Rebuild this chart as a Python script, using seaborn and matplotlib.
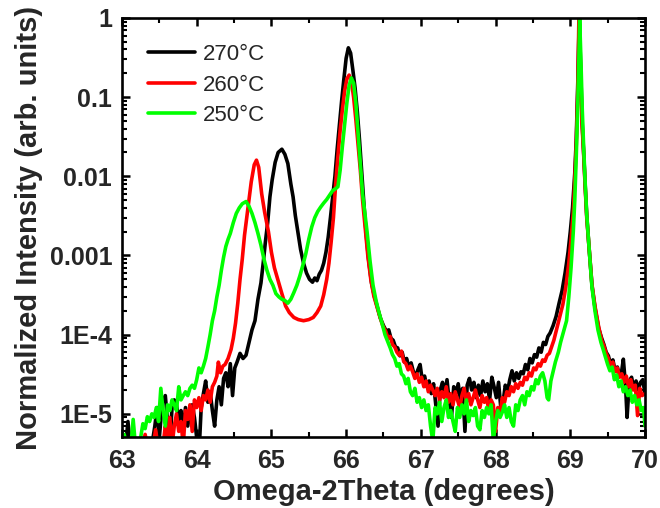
import numpy as np
import pandas as pd
import matplotlib
matplotlib.use("Agg")
import matplotlib.pyplot as plt
import seaborn as sns
from matplotlib.ticker import MultipleLocator, FixedLocator, FixedFormatter, LogLocator, NullFormatter

# ---------------- data ----------------
series_labels = ["270°C", "260°C", "250°C"]
series_colors = ["#000000", "#ff0000", "#00ff00"]

x_270 = [63.00, 63.05, 63.08, 63.11, 63.40, 63.44, 63.47, 63.50, 63.54, 63.58, 63.61, 63.64, 63.67, 63.70,
         63.73, 63.76, 63.79, 63.82, 63.85, 63.88, 63.91, 63.94, 63.97, 64.00, 64.03, 64.06, 64.09, 64.12,
         64.15, 64.18, 64.21, 64.24, 64.27, 64.30, 64.33, 64.36, 64.39, 64.42, 64.45, 64.48, 64.51, 64.54,
         64.58, 64.62, 64.66, 64.70, 64.74, 64.78, 64.82, 64.86, 64.89, 64.92, 64.95, 64.98, 65.01, 65.05,
         65.09, 65.14, 65.18, 65.22, 65.26, 65.29, 65.32, 65.35, 65.39, 65.43, 65.47, 65.51, 65.55, 65.58,
         65.61, 65.64, 65.67, 65.70, 65.73, 65.76, 65.79, 65.82, 65.85, 65.88, 65.91, 65.94, 65.97, 66.00,
         66.03, 66.06, 66.09, 66.12, 66.15, 66.18, 66.21, 66.24, 66.27, 66.30, 66.34, 66.38, 66.42, 66.46,
         66.50, 66.54, 66.57, 66.60, 66.63, 66.66, 66.69, 66.72, 66.75, 66.78, 66.81, 66.84, 66.87, 66.90,
         66.93, 66.96, 66.99, 67.02, 67.05, 67.08, 67.11, 67.14, 67.17, 67.20, 67.23, 67.26, 67.29, 67.32,
         67.35, 67.38, 67.41, 67.44, 67.47, 67.50, 67.53, 67.56, 67.59, 67.62, 67.65, 67.68, 67.71, 67.74,
         67.77, 67.80, 67.83, 67.86, 67.89, 67.92, 67.95, 67.98, 68.01, 68.04, 68.07, 68.10, 68.13, 68.16,
         68.19, 68.22, 68.25, 68.28, 68.31, 68.34, 68.37, 68.40, 68.43, 68.46, 68.49, 68.52, 68.55, 68.58,
         68.61, 68.64, 68.67, 68.70, 68.73, 68.77, 68.81, 68.85, 68.89, 68.93, 68.97, 69.00, 69.03, 69.06,
         69.08, 69.10, 69.12, 69.14, 69.16, 69.18, 69.20, 69.22, 69.25, 69.29, 69.33, 69.38, 69.42, 69.45,
         69.48, 69.51, 69.54, 69.57, 69.60, 69.63, 69.66, 69.69, 69.71, 69.74, 69.76, 69.79, 69.82, 69.85,
         69.88, 69.91, 69.94, 69.97, 70.00]
y_270 = [3e-6, 4e-6, 8e-6, 4e-6, 4e-6, 7e-6, 1.2e-5, 5e-6, 1.4e-5, 1.7e-5, 8e-6, 4e-6, 1.2e-5, 1.5e-5,
         1.3e-5, 8e-6, 1.1e-5, 6e-6, 1.2e-5, 7e-6, 1.1e-5, 1.3e-5, 9e-6, 5e-6, 3e-6, 1.2e-5, 1.8e-5, 2.6e-5,
         1.4e-5, 1.9e-5, 1.1e-5, 7e-6, 1.5e-5, 2.2e-5, 1.3e-5, 2.8e-5, 3.3e-5, 2.2e-5, 4.3e-5, 1.7e-5, 3.8e-5, 4.5e-5,
         5.8e-5, 5.0e-5, 5.5e-5, 8.0e-5, 1.15e-4, 1.5e-4, 2.8e-4, 4.5e-4, 8.0e-4, 1.5e-3, 2.6e-3, 5.5e-3, 9.0e-3, 1.5e-2,
         2.0e-2, 2.2e-2, 1.9e-2, 1.45e-2, 8.0e-3, 5.5e-3, 3.2e-3, 2.1e-3, 1.2e-3, 8.0e-4, 6.0e-4, 5.0e-4, 4.6e-4, 5.2e-4,
         4.8e-4, 5.8e-4, 6.5e-4, 8.0e-4, 1.1e-3, 1.7e-3, 3.0e-3, 5.5e-3, 1.0e-2, 2.2e-2, 4.5e-2, 9.0e-2, 0.17, 0.31,
         0.42, 0.36, 0.22, 0.13, 0.065, 0.028, 0.011, 4.2e-3, 1.8e-3, 9.0e-4, 4.5e-4, 3.0e-4, 2.2e-4, 1.6e-4,
         1.3e-4, 1.1e-4, 1.15e-4, 9.0e-5, 8.5e-5, 7.0e-5, 6.8e-5, 5.4e-5, 6.0e-5, 4.5e-5, 5.0e-5, 3.8e-5, 4.4e-5, 3.4e-5,
         3.0e-5, 3.6e-5, 4.2e-5, 2.6e-5, 3.0e-5, 2.2e-5, 2.6e-5, 1.8e-5, 2.4e-5, 1.3e-5, 7e-6, 2.0e-5, 2.5e-5, 1.7e-5,
         2.7e-5, 1.4e-5, 9e-6, 2.2e-5, 1.8e-5, 2.4e-5, 1.5e-5, 2.1e-5, 6e-6, 2.3e-5, 2.8e-5, 2.0e-5, 2.5e-5, 1.6e-5,
         2.3e-5, 1.7e-5, 2.6e-5, 1.9e-5, 2.4e-5, 1.5e-5, 2.9e-5, 2.2e-5, 1.6e-5, 2.5e-5, 1.2e-5, 1.4e-5, 2.3e-5, 1.9e-5,
         2.7e-5, 3.5e-5, 2.6e-5, 3.3e-5, 2.8e-5, 3.4e-5, 3.2e-5, 4.2e-5, 3.6e-5, 5.0e-5, 4.4e-5, 5.6e-5, 5.2e-5, 6.8e-5,
         6.0e-5, 8.0e-5, 7.5e-5, 9.5e-5, 1.05e-4, 1.3e-4, 1.7e-4, 2.5e-4, 3.6e-4, 6.0e-4, 1.1e-3, 2.0e-3, 4.0e-3, 1.1e-2,
         3.0e-2, 0.15, 1.0, 0.2, 0.045, 0.019, 7.5e-3, 3.2e-3, 1.3e-3, 4.2e-4, 2.2e-4, 1.2e-4, 9.0e-5, 7.5e-5,
         6.0e-5, 5.4e-5, 4.2e-5, 4.8e-5, 3.5e-5, 3.9e-5, 3.0e-5, 3.6e-5, 4.9e-5, 2.2e-5, 9e-6, 2.6e-5, 2.9e-5, 2.1e-5,
         2.6e-5, 2.0e-5, 2.5e-5, 2.7e-5, 1.8e-5]

x_260 = [63.00, 63.03, 63.28, 63.31, 63.34, 63.42, 63.45, 63.48, 63.55, 63.58, 63.61, 63.64, 63.67, 63.70,
         63.73, 63.76, 63.79, 63.82, 63.85, 63.88, 63.91, 63.94, 63.97, 64.00, 64.03, 64.06, 64.09, 64.12,
         64.15, 64.18, 64.21, 64.24, 64.27, 64.29, 64.32, 64.35, 64.38, 64.42, 64.46, 64.49, 64.52, 64.55,
         64.58, 64.61, 64.64, 64.67, 64.70, 64.73, 64.77, 64.80, 64.83, 64.87, 64.91, 64.96, 65.00, 65.04,
         65.09, 65.14, 65.19, 65.24, 65.30, 65.36, 65.43, 65.50, 65.56, 65.61, 65.66, 65.70, 65.74, 65.77,
         65.80, 65.83, 65.86, 65.89, 65.92, 65.95, 65.98, 66.01, 66.04, 66.07, 66.10, 66.13, 66.16, 66.19,
         66.22, 66.25, 66.29, 66.33, 66.37, 66.41, 66.45, 66.49, 66.53, 66.56, 66.59, 66.62, 66.65, 66.68,
         66.71, 66.74, 66.77, 66.80, 66.83, 66.86, 66.89, 66.92, 66.95, 66.98, 67.01, 67.04, 67.07, 67.10,
         67.13, 67.16, 67.19, 67.22, 67.25, 67.28, 67.31, 67.34, 67.37, 67.40, 67.43, 67.46, 67.49, 67.52,
         67.55, 67.58, 67.61, 67.64, 67.67, 67.70, 67.73, 67.76, 67.79, 67.82, 67.85, 67.88, 67.91, 67.94,
         67.97, 68.00, 68.03, 68.06, 68.09, 68.12, 68.15, 68.18, 68.21, 68.24, 68.27, 68.30, 68.33, 68.36,
         68.39, 68.42, 68.45, 68.48, 68.51, 68.54, 68.57, 68.60, 68.63, 68.66, 68.69, 68.72, 68.75, 68.78,
         68.82, 68.86, 68.90, 68.94, 68.98, 69.01, 69.04, 69.06, 69.08, 69.10, 69.115, 69.135, 69.155, 69.18,
         69.20, 69.22, 69.25, 69.29, 69.33, 69.38, 69.42, 69.45, 69.48, 69.51, 69.54, 69.57, 69.60, 69.63,
         69.66, 69.69, 69.72, 69.75, 69.78, 69.81, 69.84, 69.87, 69.90, 69.93, 69.96, 70.00]
y_260 = [5.3e-6, 4e-6, 4e-6, 5.5e-6, 4e-6, 4e-6, 6.3e-6, 4e-6, 4e-6, 7e-6, 5e-6, 9e-6, 4e-6, 7e-6,
         1.0e-5, 6e-6, 8e-6, 4e-6, 1.1e-5, 8.5e-6, 1.3e-5, 6e-6, 1.5e-5, 1.2e-5, 1.6e-5, 1.1e-5, 1.7e-5, 1.5e-5,
         2.0e-5, 1.4e-5, 2.2e-5, 2.5e-5, 3.0e-5, 4.5e-5, 3.3e-5, 4.0e-5, 4.2e-5, 5.0e-5, 6.5e-5, 9.0e-5, 1.4e-4, 2.5e-4,
         5.0e-4, 9.0e-4, 1.8e-3, 3.0e-3, 5.0e-3, 8.5e-3, 1.4e-2, 1.6e-2, 1.3e-2, 6.0e-3, 3.5e-3, 2.0e-3, 1.1e-3, 7.0e-4,
         4.8e-4, 3.3e-4, 2.3e-4, 1.9e-4, 1.65e-4, 1.55e-4, 1.5e-4, 1.55e-4, 1.65e-4, 1.9e-4, 2.3e-4, 3.2e-4, 5.0e-4, 8.0e-4,
         1.5e-3, 3.0e-3, 8.0e-3, 1.8e-2, 3.8e-2, 7.0e-2, 0.12, 0.17, 0.19, 0.16, 0.10, 0.052, 0.025, 0.012,
         5.0e-3, 2.5e-3, 1.0e-3, 5.0e-4, 3.1e-4, 2.3e-4, 1.7e-4, 1.3e-4, 1.1e-4, 9.0e-5, 9.5e-5, 7.5e-5, 7.0e-5, 6.0e-5,
         5.5e-5, 6.2e-5, 4.6e-5, 4.3e-5, 3.6e-5, 4.0e-5, 3.4e-5, 2.8e-5, 3.2e-5, 2.5e-5, 2.9e-5, 2.2e-5, 2.6e-5, 1.9e-5,
         2.3e-5, 2.0e-5, 1.7e-5, 2.1e-5, 1.5e-5, 1.9e-5, 1.6e-5, 2.2e-5, 1.4e-5, 1.8e-5, 1.3e-5, 1.9e-5, 1.5e-5, 1.2e-5,
         1.7e-5, 2.1e-5, 1.4e-5, 1.8e-5, 1.3e-5, 1.6e-5, 2.0e-5, 1.5e-5, 1.2e-5, 1.7e-5, 1.4e-5, 1.6e-5, 1.1e-5, 1.5e-5,
         1.3e-5, 6e-6, 1.2e-5, 1.0e-5, 1.6e-5, 1.4e-5, 1.9e-5, 1.7e-5, 2.2e-5, 1.9e-5, 2.4e-5, 2.1e-5, 2.5e-5, 2.3e-5,
         2.9e-5, 2.7e-5, 3.3e-5, 3.0e-5, 3.8e-5, 3.6e-5, 4.3e-5, 4.0e-5, 4.8e-5, 4.6e-5, 5.5e-5, 5.8e-5, 7.0e-5, 8.5e-5,
         1.2e-4, 1.7e-4, 2.4e-4, 4.0e-4, 8.0e-4, 1.6e-3, 3.5e-3, 9.0e-3, 2.5e-2, 0.12, 1.0, 0.25, 0.05, 0.018,
         7.0e-3, 3.0e-3, 1.3e-3, 4.3e-4, 2.3e-4, 1.25e-4, 8.5e-5, 7.2e-5, 5.8e-5, 5.0e-5, 4.0e-5, 4.5e-5, 3.4e-5, 3.8e-5,
         2.9e-5, 3.2e-5, 2.5e-5, 3.0e-5, 2.2e-5, 2.7e-5, 2.0e-5, 2.3e-5, 9.5e-6, 2.1e-5, 1.7e-5, 1.8e-5]

x_250 = [63.00, 63.03, 63.06, 63.12, 63.15, 63.18, 63.25, 63.28, 63.31, 63.34, 63.37, 63.40, 63.43, 63.46,
         63.49, 63.52, 63.55, 63.58, 63.61, 63.64, 63.67, 63.70, 63.73, 63.76, 63.79, 63.82, 63.85, 63.88,
         63.91, 63.94, 63.97, 64.00, 64.03, 64.06, 64.09, 64.12, 64.15, 64.18, 64.21, 64.24, 64.27, 64.30,
         64.33, 64.36, 64.39, 64.42, 64.45, 64.49, 64.53, 64.57, 64.61, 64.66, 64.70, 64.74, 64.78, 64.82,
         64.86, 64.90, 64.94, 64.98, 65.02, 65.06, 65.10, 65.14, 65.18, 65.22, 65.26, 65.30, 65.34, 65.38,
         65.42, 65.46, 65.50, 65.54, 65.58, 65.62, 65.66, 65.70, 65.74, 65.78, 65.82, 65.86, 65.89, 65.92,
         65.95, 65.98, 66.01, 66.04, 66.07, 66.10, 66.13, 66.16, 66.19, 66.22, 66.25, 66.28, 66.32, 66.36,
         66.40, 66.44, 66.48, 66.52, 66.56, 66.59, 66.62, 66.65, 66.68, 66.71, 66.74, 66.77, 66.80, 66.83,
         66.86, 66.89, 66.92, 66.95, 66.98, 67.01, 67.04, 67.07, 67.10, 67.13, 67.16, 67.19, 67.22, 67.25,
         67.28, 67.31, 67.34, 67.37, 67.40, 67.43, 67.46, 67.49, 67.52, 67.55, 67.58, 67.61, 67.64, 67.67,
         67.70, 67.73, 67.76, 67.79, 67.82, 67.85, 67.88, 67.91, 67.94, 67.97, 68.00, 68.03, 68.06, 68.09,
         68.12, 68.15, 68.18, 68.21, 68.24, 68.27, 68.30, 68.33, 68.36, 68.39, 68.42, 68.45, 68.48, 68.51,
         68.54, 68.57, 68.60, 68.63, 68.66, 68.69, 68.71, 68.74, 68.77, 68.80, 68.84, 68.87, 68.91, 68.95,
         68.98, 69.01, 69.04, 69.06, 69.08, 69.10, 69.12, 69.125, 69.14, 69.16, 69.18, 69.20, 69.22, 69.25,
         69.29, 69.33, 69.37, 69.41, 69.44, 69.47, 69.50, 69.53, 69.56, 69.59, 69.62, 69.65, 69.68, 69.71,
         69.74, 69.77, 69.80, 69.83, 69.86, 69.89, 69.92, 69.95, 69.98, 70.00]
y_250 = [4e-6, 5.5e-6, 4e-6, 4e-6, 8.5e-6, 4e-6, 5e-6, 7.5e-6, 6.5e-6, 9.2e-6, 8e-6, 1.0e-5, 9e-6, 1.2e-5,
         8e-6, 2.1e-5, 1.1e-5, 7e-6, 1.3e-5, 1.1e-5, 1.5e-5, 1.3e-5, 1.1e-5, 2.2e-5, 1.5e-5, 1.7e-5, 1.9e-5, 1.7e-5,
         2.1e-5, 2.3e-5, 2.1e-5, 2.7e-5, 3.8e-5, 3.3e-5, 4.0e-5, 5.0e-5, 7.0e-5, 1.0e-4, 1.5e-4, 2.0e-4, 3.0e-4, 4.2e-4,
         6.5e-4, 9.5e-4, 1.3e-3, 1.6e-3, 1.9e-3, 2.6e-3, 3.4e-3, 4.0e-3, 4.5e-3, 4.8e-3, 4.2e-3, 3.4e-3, 2.6e-3, 1.9e-3,
         1.35e-3, 9.0e-4, 6.5e-4, 5.0e-4, 4.2e-4, 3.3e-4, 3.0e-4, 2.8e-4, 2.7e-4, 2.5e-4, 2.8e-4, 3.4e-4, 4.2e-4, 5.5e-4,
         7.5e-4, 1.05e-3, 1.6e-3, 2.3e-3, 3.0e-3, 3.6e-3, 4.1e-3, 4.6e-3, 5.1e-3, 5.8e-3, 6.6e-3, 7.0e-3, 7.4e-3, 1.2e-2,
         2.4e-2, 4.5e-2, 8.5e-2, 0.14, 0.175, 0.15, 0.085, 0.035, 0.014, 6.0e-3, 3.5e-3, 2.0e-3, 8.5e-4, 4.2e-4,
         2.7e-4, 1.9e-4, 1.4e-4, 1.0e-4, 8.0e-5, 6.8e-5, 5.6e-5, 5.0e-5, 4.0e-5, 4.3e-5, 3.2e-5, 3.0e-5, 2.4e-5, 2.8e-5,
         1.9e-5, 1.7e-5, 2.1e-5, 1.4e-5, 1.6e-5, 1.2e-5, 1.5e-5, 1.1e-5, 1.3e-5, 7e-6, 4.5e-6, 1.2e-5, 1.0e-5, 1.4e-5,
         8e-6, 1.2e-5, 1.5e-5, 9e-6, 1.1e-5, 8e-6, 6e-6, 1.2e-5, 9e-6, 1.3e-5, 1.0e-5, 1.5e-5, 8e-6, 1.1e-5,
         9.5e-6, 1.2e-5, 7e-6, 6.3e-6, 1.1e-5, 9e-6, 1.2e-5, 1.0e-5, 1.3e-5, 4.5e-6, 8e-6, 1.1e-5, 9e-6, 1.05e-5,
         1.3e-5, 9e-6, 1.2e-5, 8e-6, 7e-6, 1.3e-5, 1.1e-5, 1.5e-5, 1.7e-5, 1.3e-5, 1.9e-5, 1.7e-5, 2.2e-5, 2.0e-5,
         2.7e-5, 2.4e-5, 3.0e-5, 3.3e-5, 2.6e-5, 1.6e-5, 1.5e-5, 2.6e-5, 3.4e-5, 4.5e-5, 6.0e-5, 8.0e-5, 1.1e-4, 1.5e-4,
         3.0e-4, 7.0e-4, 2.0e-3, 5.0e-3, 1.8e-2, 0.08, 0.5, 1.0, 0.35, 0.07, 0.022, 8.0e-3, 3.3e-3, 1.3e-3,
         4.0e-4, 2.0e-4, 1.15e-4, 8.0e-5, 6.5e-5, 5.2e-5, 4.2e-5, 3.5e-5, 3.9e-5, 2.7e-5, 3.1e-5, 2.2e-5, 2.6e-5, 1.9e-5,
         2.2e-5, 1.7e-5, 2.0e-5, 1.4e-5, 1.7e-5, 1.3e-5, 1.5e-5, 1.1e-5, 1.2e-5, 7e-6]

x_ticks = [63, 64, 65, 66, 67, 68, 69, 70]
y_ticks = [1e-5, 1e-4, 1e-3, 1e-2, 1e-1, 1]
y_tick_labels = ["1E-5", "1E-4", "0.001", "0.01", "0.1", "1"]
x_label = "Omega-2Theta (degrees)"
y_label = "Normalized Intensity (arb. units)"

# ---------------- build table ----------------
frames = []
for lab, xs, ys in zip(series_labels, [x_270, x_260, x_250], [y_270, y_260, y_250]):
    frames.append(pd.DataFrame({"x": xs, "y": ys, "series": lab}))
df = pd.concat(frames, ignore_index=True)

sns.set_style("ticks")
plt.rcParams["font.family"] = ["Liberation Sans", "DejaVu Sans"]

fig = plt.figure(figsize=(6.6, 5.08), dpi=100)
ax = fig.add_axes([0.1848, 0.1398, 0.7925, 0.8248])

sns.lineplot(data=df, x="x", y="y", hue="series", hue_order=series_labels,
             palette=dict(zip(series_labels, series_colors)), estimator=None,
             sort=False, linewidth=2.6, ax=ax, legend=False)

ax.set_yscale("log")
ax.set_xlim(63, 70)
ax.set_ylim(5.1e-6, 1.0)

ax.xaxis.set_major_locator(FixedLocator(x_ticks))
ax.set_xticklabels([str(t) for t in x_ticks])
ax.xaxis.set_minor_locator(MultipleLocator(0.5))
ax.yaxis.set_major_locator(FixedLocator(y_ticks))
ax.yaxis.set_major_formatter(FixedFormatter(y_tick_labels))
ax.yaxis.set_minor_locator(LogLocator(base=10, subs=np.arange(2, 10), numticks=20))
ax.yaxis.set_minor_formatter(NullFormatter())

ax.tick_params(which="both", direction="in", top=True, right=True, width=1.8, color="black")
ax.tick_params(which="major", length=6, labelsize=18)
ax.tick_params(axis="x", which="major", pad=9)
ax.tick_params(axis="y", which="major", pad=7)
ax.tick_params(which="minor", length=3.5, width=1.5)
for lbl in ax.get_xticklabels() + ax.get_yticklabels():
    lbl.set_fontweight("bold")

for sp in ax.spines.values():
    sp.set_linewidth(1.9)
    sp.set_color("black")

ax.set_xlabel(x_label, fontsize=21, fontweight="bold", labelpad=3)
ax.set_ylabel(y_label, fontsize=21, fontweight="bold", labelpad=5)

handles = [plt.Line2D([], [], color=c, linewidth=2.6) for c in series_colors]
ax.legend(handles, series_labels, loc="upper left", frameon=False, fontsize=16,
          handlelength=2.1, handletextpad=0.35, labelspacing=0.42,
          bbox_to_anchor=(0.012, 0.985))

fig.savefig("out.png", dpi=100)
